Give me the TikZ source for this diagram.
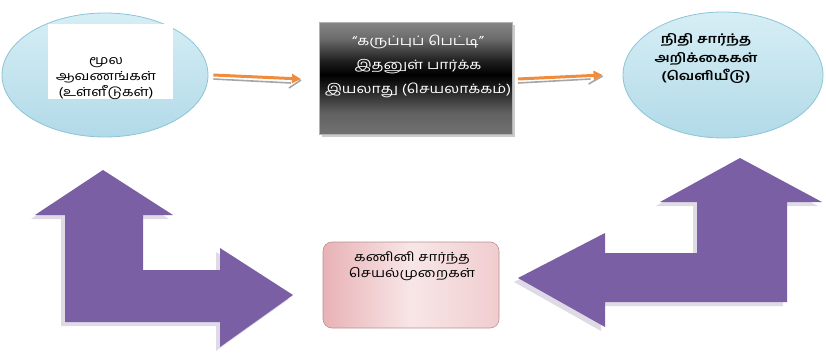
\documentclass[tikz,border=0pt]{standalone}
\usepackage{fontspec}
\newfontfamily\tamil[Script=Tamil,FakeStretch=1.2]{Hind Madurai}
\usetikzlibrary{shapes.geometric,arrows.meta,shadows}
\definecolor{ellfill}{RGB}{214,238,245}
\definecolor{ellbot}{RGB}{178,218,232}
\definecolor{elledge}{RGB}{140,196,214}
\definecolor{arrowpurple}{RGB}{123,95,165}
\definecolor{arrowedge}{RGB}{222,218,230}
\definecolor{flow}{RGB}{240,140,60}
\definecolor{pinkl}{RGB}{232,178,182}
\definecolor{pinkm}{RGB}{248,230,231}
\definecolor{pinkr}{RGB}{240,205,207}
\pgfdeclareverticalshading{boxshade}{100bp}{color(0bp)=(black!55); color(25bp)=(black!55);
  color(35bp)=(black!62); color(46bp)=(black!88); color(52bp)=(black); color(58bp)=(black!88);
  color(68bp)=(black!58); color(75bp)=(black!48); color(100bp)=(black!48)}
\begin{document}
\begin{tikzpicture}[x=1pt,y=-1pt,
  font=\tamil\fontsize{12.5}{16}\selectfont,
  blob/.style={ellipse,draw=elledge,line width=0.8pt,top color=ellfill,bottom color=ellbot,
    minimum width=206,minimum height=124},
  blackbox/.style={rectangle,draw=gray!60,line width=1pt,shading=boxshade,
    minimum width=193,minimum height=112,drop shadow={opacity=0.4}},
  pinkbox/.style={rectangle,rounded corners=9pt,draw=pinkl!80!black,line width=0.6pt,
    left color=pinkl,right color=pinkr,middle color=pinkm,minimum width=176,minimum height=86},
  label/.style={align=center,text=black},
  flowarrow/.style={flow,line width=3pt,-{Triangle[length=9pt,width=9pt]}},
  flowshade/.style={gray!70,line width=1.6pt},
  bigarrow/.style={fill=arrowpurple},
  bigshade/.style={fill=arrowedge}]
\useasboundingbox (0,0) rectangle (826,358);

% input, processing and output
\draw (105,75) node[blob](inp){};
\draw (110,62) node[rectangle,fill=white,minimum width=125,minimum height=75](paper){};
\draw (106,79) node[label](inptxt){மூல\\ஆவணங்கள்\\(உள்ளீடுகள்)};
\draw (416,79) node[blackbox](box){};
\draw (418,66) node[label,text=white,font=\tamil\fontsize{13}{24}\selectfont](boxtxt){“கருப்புப் பெட்டி”\\இதனுள் பார்க்க\\இயலாது (செயலாக்கம்)};
\draw (723,75) node[blob,minimum width=200,minimum height=126](out){};
\draw (706,59) node[label,font=\tamil\bfseries\fontsize{12.5}{18.5}\selectfont](outtxt){நிதி சார்ந்த\\அறிக்கைகள்\\(வெளியீடு)};
\draw (411,285) node[pinkbox](comp){};
\draw (412,266) node[label](comptxt){கணினி சார்ந்த\\செயல்முறைகள்};

% flow arrows
\draw[flowshade] ([shift={(5,4)}]inp.east) -- ([shift={(-28,4)}]box.west);
\draw[flowshade] ([shift={(-30,9)}]box.west) -- ([shift={(-18,1)}]box.west);
\draw[flowarrow] ([xshift=5]inp.east) -- ([xshift=-18]box.west);
\draw[flowshade] ([shift={(5,4)}]box.east) -- ([shift={(-32,4)}]out.west);
\draw[flowshade] ([shift={(-34,9)}]out.west) -- ([shift={(-20,1)}]out.west);
\draw[flowarrow] ([xshift=5]box.east) -- ([xshift=-20]out.west);

% bent arrows
\begin{scope}[shift={(-4,4)}]
\path[bigshade] (103,170) -- (173,215) -- (143,215) -- (143,270) -- (220,270) -- (220,248)
  -- (293,295) -- (220,347) -- (220,322) -- (65,322) -- (65,215) -- (35,215) -- cycle;
\path[bigshade] (740,158) -- (822,202) -- (787,202) -- (787,302) -- (605,302) -- (605,327)
  -- (518,278) -- (605,233) -- (605,253) -- (697,253) -- (697,202) -- (660,202) -- cycle;
\end{scope}
\path[bigarrow] (103,170) -- (173,215) -- (143,215) -- (143,270) -- (220,270) -- (220,248)
  -- (293,295) -- (220,347) -- (220,322) -- (65,322) -- (65,215) -- (35,215) -- cycle;
\path[bigarrow] (740,158) -- (822,202) -- (787,202) -- (787,302) -- (605,302) -- (605,327)
  -- (518,278) -- (605,233) -- (605,253) -- (697,253) -- (697,202) -- (660,202) -- cycle;
\end{tikzpicture}
\end{document}
